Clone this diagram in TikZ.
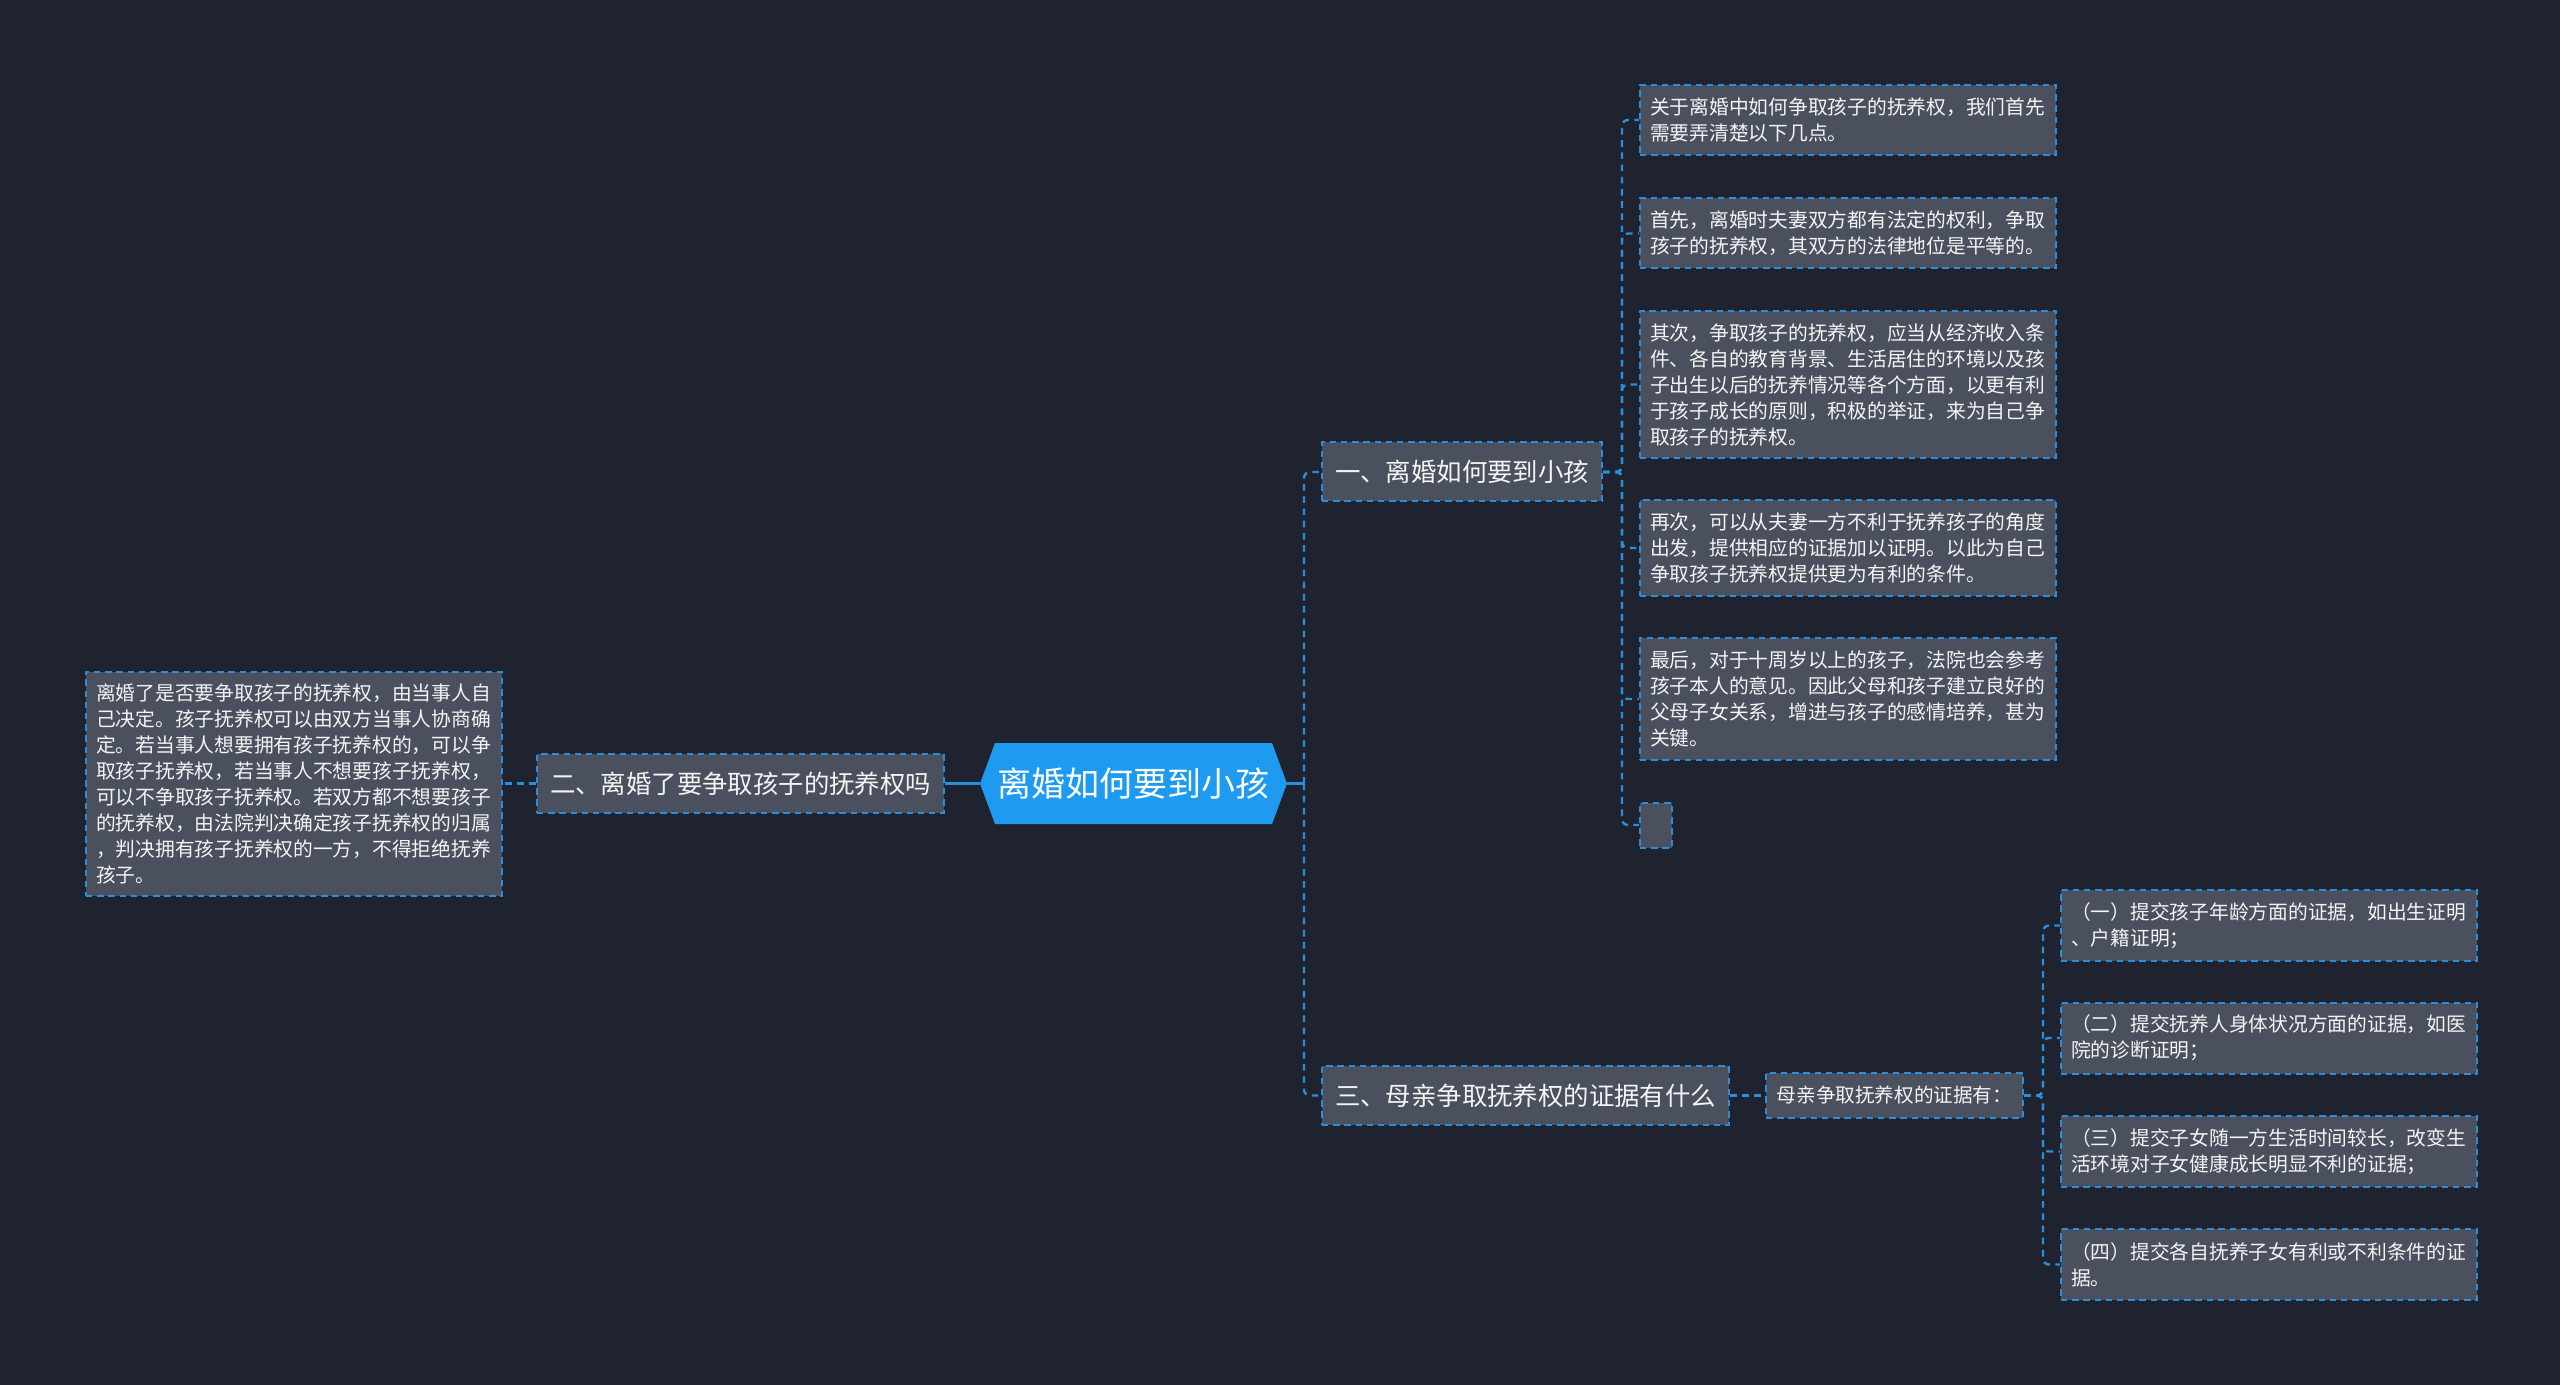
\documentclass[tikz,border=0pt]{standalone}
\usepackage{fontspec}
\newfontfamily\cjk{Noto Sans CJK SC}
\usetikzlibrary{calc}
\definecolor{bgcol}{HTML}{1F2330}
\definecolor{boxfill}{HTML}{4A505E}
\definecolor{lineblue}{HTML}{2A8EDC}
\definecolor{rootblue}{HTML}{1E9BF0}
\definecolor{txt}{HTML}{F4F4F4}
\begin{document}
\begin{tikzpicture}[x=0.5pt,y=-0.5pt,
  box/.style={draw=lineblue, line width=1pt, dash pattern=on 3.2pt off 2.4pt,
    fill=boxfill, text=txt, inner xsep=5pt, inner ysep=0pt},
  leaf/.style={box, anchor=west, align=left, text width=198pt,
    font=\cjk\fontsize{9.875pt}{13pt}\selectfont},
  topic/.style={box, align=center, minimum height=29.5pt,
    font=\cjk\fontsize{12.7pt}{15pt}\selectfont},
  conn/.style={draw=lineblue, line width=1.2pt, dash pattern=on 3.3pt off 2.8pt,
    rounded corners=3pt},
  solidconn/.style={draw=lineblue, line width=1.2pt}
]
\fill[bgcol] (0,0) rectangle (2560,1385);
\useasboundingbox (0,0) rectangle (2560,1385);

% root
\fill[rootblue] (980,783.5) -- (995,743) -- (1272,743) -- (1287,783.5) -- (1272,824) -- (995,824) -- cycle;
\node[inner sep=0pt, minimum width=153.5pt, minimum height=40.5pt, text=white,
  font=\cjk\fontsize{17pt}{20pt}\selectfont] (root) at (1133.5,783.5) {离婚如何要到小孩};

% main topics
\node[topic, minimum width=203.5pt] (er) at (740.5,783.5) {二、离婚了要争取孩子的抚养权吗};
\node[topic, minimum width=140pt] (yi) at (1462,472) {一、离婚如何要到小孩};
\node[topic, minimum width=203.5pt] (san) at (1525.5,1095.5) {三、母亲争取抚养权的证据有什么};
\node[box, align=center, minimum width=128.5pt, minimum height=22.5pt,
  font=\cjk\fontsize{9.8pt}{12pt}\selectfont] (mq) at (1894.5,1095.5) {母亲争取抚养权的证据有：};

% left leaf
\node[leaf, minimum height=112pt] (lf) at (85,783.5) {离婚了是否要争取孩子的抚养权，由当事人自\\己决定。孩子抚养权可以由双方当事人协商确\\定。若当事人想要拥有孩子抚养权的，可以争\\取孩子抚养权，若当事人不想要孩子抚养权，\\可以不争取孩子抚养权。若双方都不想要孩子\\的抚养权，由法院判决确定孩子抚养权的归属\\，判决拥有孩子抚养权的一方，不得拒绝抚养\\孩子。};

% leaves of yi
\node[leaf, minimum height=35pt] (a1) at (1639,120) {关于离婚中如何争取孩子的抚养权，我们首先\\需要弄清楚以下几点。};
\node[leaf, minimum height=35pt] (a2) at (1639,233.5) {首先，离婚时夫妻双方都有法定的权利，争取\\孩子的抚养权，其双方的法律地位是平等的。};
\node[leaf, minimum height=73.5pt] (a3) at (1639,384.5) {其次，争取孩子的抚养权，应当从经济收入条\\件、各自的教育背景、生活居住的环境以及孩\\子出生以后的抚养情况等各个方面，以更有利\\于孩子成长的原则，积极的举证，来为自己争\\取孩子的抚养权。};
\node[leaf, minimum height=48pt] (a4) at (1639,548) {再次，可以从夫妻一方不利于抚养孩子的角度\\出发，提供相应的证据加以证明。以此为自己\\争取孩子抚养权提供更为有利的条件。};
\node[leaf, minimum height=61pt] (a5) at (1639,699) {最后，对于十周岁以上的孩子，法院也会参考\\孩子本人的意见。因此父母和孩子建立良好的\\父母子女关系，增进与孩子的感情培养，甚为\\关键。};
\node[box, anchor=west, minimum width=16pt, minimum height=22.5pt, inner sep=0pt] (a6) at (1639,825) {};

% leaves of mq
\node[leaf, minimum height=35.5pt] (m1) at (2060,925.5) {（一）提交孩子年龄方面的证据，如出生证明\\、户籍证明；};
\node[leaf, minimum height=35.5pt] (m2) at (2060,1038) {（二）提交抚养人身体状况方面的证据，如医\\院的诊断证明；};
\node[leaf, minimum height=35.5pt] (m3) at (2060,1151.5) {（三）提交子女随一方生活时间较长，改变生\\活环境对子女健康成长明显不利的证据；};
\node[leaf, minimum height=35.5pt] (m4) at (2060,1264.5) {（四）提交各自抚养子女有利或不利条件的证\\据。};

% connectors
\coordinate (trunk) at (1304,783.5);
\draw[solidconn] (root.west) -- (er.east);
\draw[solidconn] (root.east) -- (trunk);
\draw[conn] (trunk) |- (yi.west);
\draw[conn] (trunk) |- (san.west);
\draw[conn] (er.west) -- (lf.east);
\foreach \n in {a1,a2,a3,a4,a5,a6}
  \draw[conn] (yi.east) -- ++(19,0) |- (\n.west);
\draw[conn] (san.east) -- (mq.west);
\foreach \n in {m1,m2,m3,m4}
  \draw[conn] (mq.east) -- ++(19,0) |- (\n.west);
\end{tikzpicture}
\end{document}
